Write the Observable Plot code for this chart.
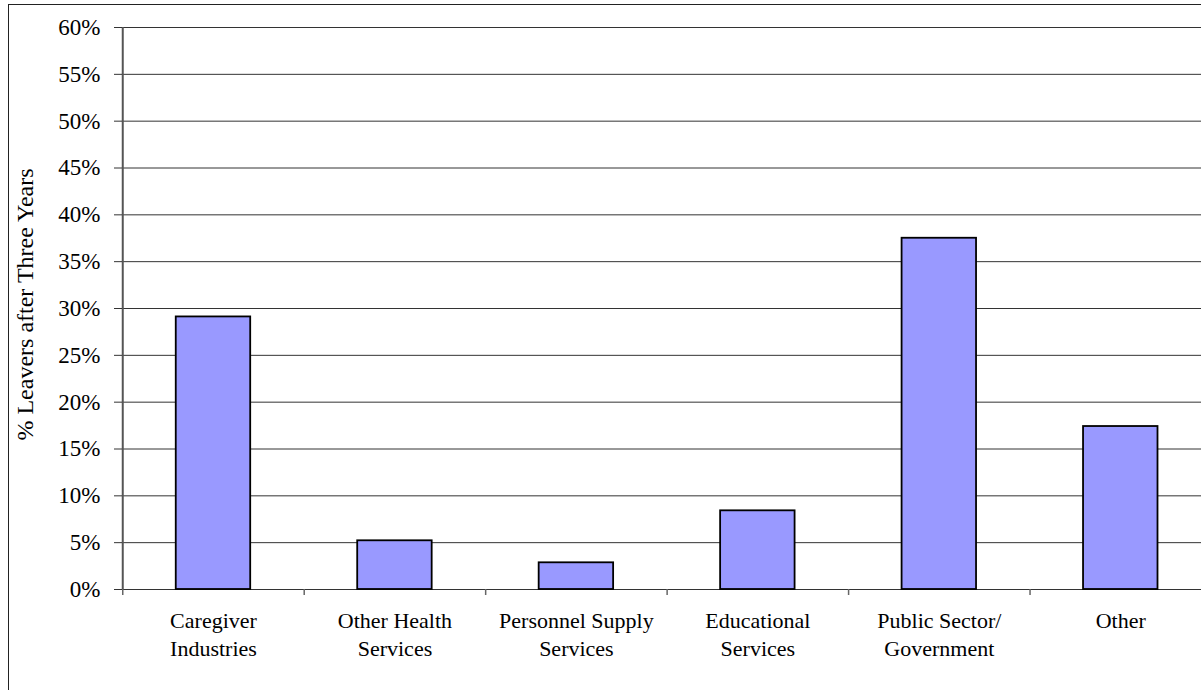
<!DOCTYPE html>
<html>
<head>
<meta charset="utf-8">
<script src="https://cdn.jsdelivr.net/npm/d3@7"></script>
<script src="https://cdn.jsdelivr.net/npm/@observablehq/plot@0.6"></script>
<style>
  html, body { margin: 0; padding: 0; background: white; overflow: hidden; }
  #wrap { position: relative; width: 1201px; height: 690px; }
  #border { position: absolute; left: 8px; top: 4px; width: 1300px; height: 800px; border: 1.5px solid #222; pointer-events: none; }
  #chart svg, #chart svg text { font-family: "Liberation Serif", "Times New Roman", serif !important; }
</style>
</head>
<body>
<div id="wrap"><div id="chart"></div><div id="border"></div></div>
<script>
const categories = [
  "Caregiver\nIndustries",
  "Other Health\nServices",
  "Personnel Supply\nServices",
  "Educational\nServices",
  "Public Sector/\nGovernment",
  "Other"
];
const values = [29.1, 5.2, 2.85, 8.4, 37.5, 17.4];
const yTicks = [0, 5, 10, 15, 20, 25, 30, 35, 40, 45, 50, 55, 60];
const xBounds = [0, 1, 2, 3, 4, 5, 6];
const xCenters = [0.5, 1.5, 2.5, 3.5, 4.5, 5.5];
const yTitle = "% Leavers after Three Years";

const data = categories.map((c, i) => ({i, c, v: values[i]}));
const serif = "Liberation Serif";

const chart = Plot.plot({
  width: 1201,
  height: 690,
  marginLeft: 122,
  marginTop: 27,
  marginBottom: 101,
  marginRight: 0,
  x: {type: "linear", domain: [0, 6], range: [122.25, 1211]},
  y: {domain: [0, 60], range: [589, 27]},
  style: {fontFamily: serif, background: "transparent", color: "black"},
  marks: [
    Plot.ruleY(yTicks, {stroke: "#333", strokeWidth: 1}),
    Plot.rectY(data, {x1: "i", x2: d => d.i + 1, y: "v", fill: "#9999FF", stroke: "black", strokeWidth: 1.8, insetLeft: 53.5, insetRight: 53.5}),
    Plot.ruleX([0], {stroke: "#555", strokeWidth: 2}),
    Plot.axisY({ticks: yTicks, tickSize: 8, tickPadding: 14, tickFormat: d => d + "%", fontSize: 23, fontFamily: serif, label: null, stroke: "#333"}),
    Plot.axisX({ticks: xBounds, tickSize: 6, tickFormat: () => "", label: null, stroke: "#666", strokeWidth: 1.5}),
    Plot.axisX({ticks: xCenters, tickSize: 0, tickPadding: 18, tickFormat: d => categories[Math.floor(d)], fontSize: 22, fontFamily: serif, lineHeight: 1.3, label: null}),
    Plot.text([yTitle], {frameAnchor: "left", textAnchor: "middle", rotate: -90, dx: -97, dy: -4, fontSize: 24, fontFamily: serif})
  ]
});
document.getElementById("chart").appendChild(chart);
</script>
</body>
</html>
